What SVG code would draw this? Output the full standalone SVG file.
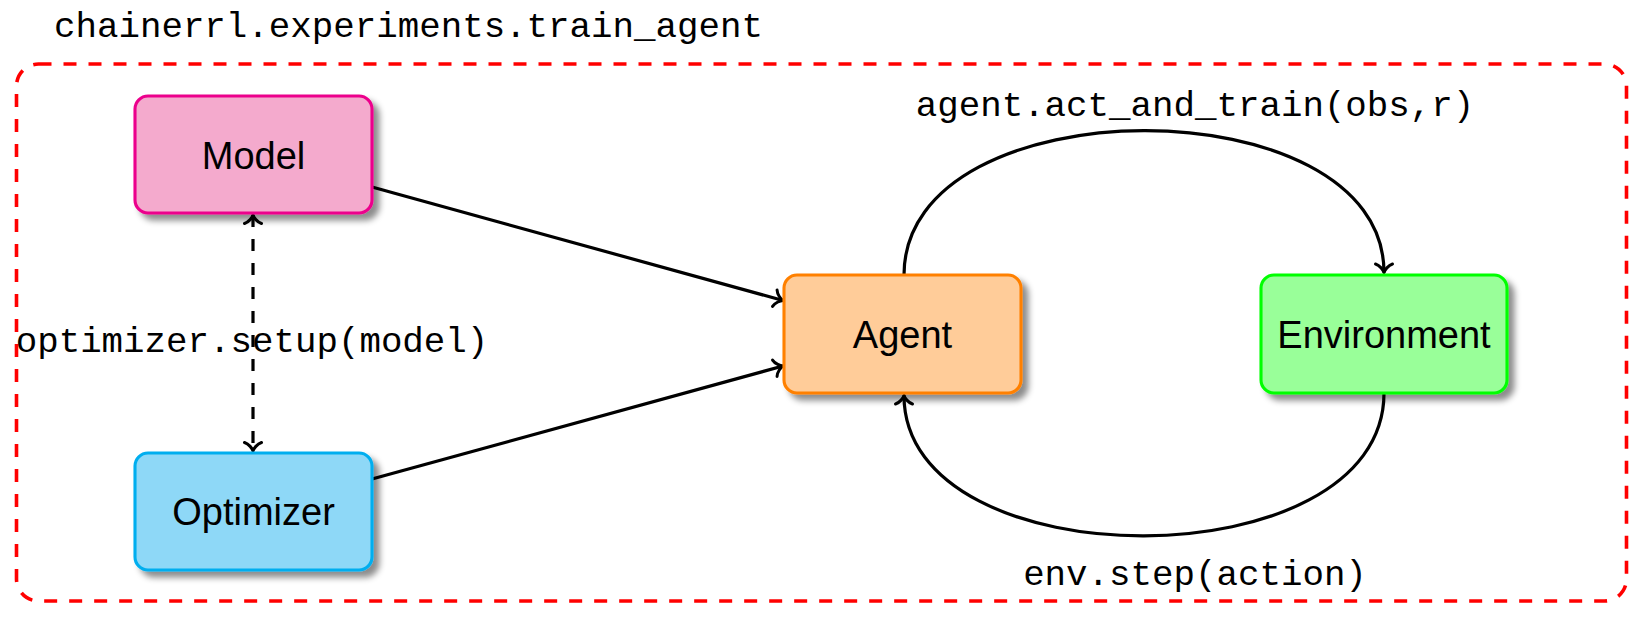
<svg xmlns="http://www.w3.org/2000/svg" width="1629" height="641" viewBox="0 0 1629 641">
  <style>
    .node rect { stroke-width: 3.1; filter: url(#shadow); }
    .label { font-family: "Liberation Sans", Arial, sans-serif; font-size: 38px; text-anchor: middle; fill: #000; }
    .code { font-family: "Liberation Mono", "Courier New", monospace; font-size: 35.8px; fill: #000; }
    .edge { fill: none; stroke: #000; stroke-width: 3.2; }
    .arrowhead { fill: none; stroke: #000; stroke-width: 3; stroke-linecap: round; stroke-linejoin: round; }
  </style>
  <defs>
    <filter id="shadow" x="-10%" y="-10%" width="130%" height="140%">
      <feDropShadow dx="6" dy="6" stdDeviation="3.2" flood-color="#000" flood-opacity="0.45"/>
    </filter>
    <marker id="arrow" viewBox="-12 -12 16 24" refX="0" refY="0" markerWidth="16" markerHeight="24" markerUnits="userSpaceOnUse" orient="auto-start-reverse">
      <path class="arrowhead" d="M -8.5 -8.5 C -7 -4 -2.5 -0.8 0 0 C -2.5 0.8 -7 4 -8.5 8.5"/>
    </marker>
  </defs>

  <rect id="frame" x="16.5" y="64" width="1610" height="537" rx="22" fill="none" stroke="#FF0000" stroke-width="3.6" stroke-dasharray="13 12"/>
  <text id="title" class="code" x="54" y="37">chainerrl.experiments.train_agent</text>

  <g id="connectors">
    <path class="edge" d="M 372 187 L 783 300.5" marker-end="url(#arrow)"/>
    <path class="edge" d="M 372 479 L 783 366" marker-end="url(#arrow)"/>
    <path class="edge" d="M 253 215 L 253 451" stroke-dasharray="12 12" marker-start="url(#arrow)" marker-end="url(#arrow)"/>
    <path class="edge" d="M 904 275 C 904 83 1384 83 1384 272.5" marker-end="url(#arrow)"/>
    <path class="edge" d="M 1384 393 C 1384 583 904 583 904 395.5" marker-end="url(#arrow)"/>
    <text class="code" x="1195" y="116" text-anchor="middle">agent.act_and_train(obs,r)</text>
    <text class="code" x="1195" y="585" text-anchor="middle">env.step(action)</text>
    <text class="code" x="252" y="352" text-anchor="middle">optimizer.setup(model)</text>
  </g>

  <g id="model" class="node">
    <rect x="135" y="96" width="237" height="117" rx="13" fill="#F4AACD" stroke="#EC008C"/>
    <text class="label" x="253.5" y="169">Model</text>
  </g>
  <g id="optimizer" class="node">
    <rect x="135" y="453" width="237" height="117" rx="13" fill="#8ED8F7" stroke="#00AEEF"/>
    <text class="label" x="253.5" y="525">Optimizer</text>
  </g>
  <g id="agent" class="node">
    <rect x="784" y="275" width="237" height="118" rx="13" fill="#FFCC99" stroke="#FF8000"/>
    <text class="label" x="902.5" y="348">Agent</text>
  </g>
  <g id="environment" class="node">
    <rect x="1261" y="275" width="246" height="118" rx="13" fill="#99FF99" stroke="#00FF00"/>
    <text class="label" x="1384" y="348">Environment</text>
  </g>
</svg>
